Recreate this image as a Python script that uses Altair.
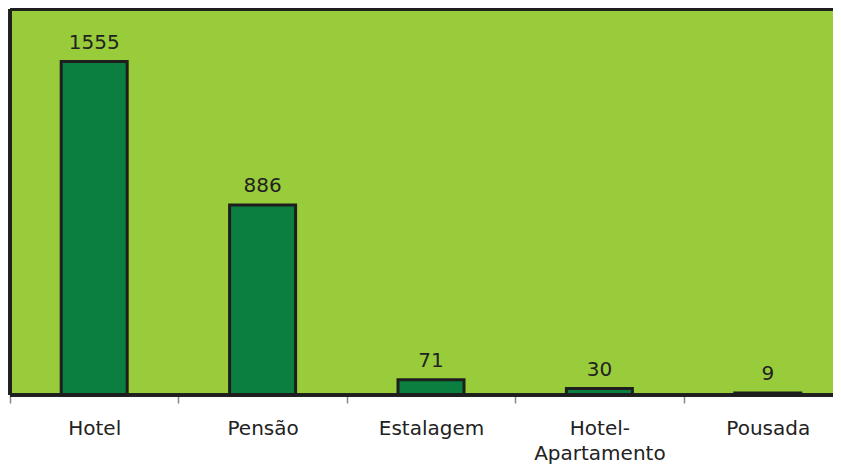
import altair as alt
import pandas as pd

categories = ["Hotel", "Pensão", "Estalagem", "Hotel-Apartamento", "Pousada"]
values = [1555, 886, 71, 30, 9]

df = pd.DataFrame({"cat": categories, "val": values})

W, H = 823, 386

x = alt.X("cat:N", sort=categories, title=None,
          scale=alt.Scale(paddingInner=0, paddingOuter=0, range=[0, 842]),
          axis=alt.Axis(labelAngle=0, labelFontSize=20, labelFont="DejaVu Sans",
                        labelColor="#222222", labelPadding=15, tickBand="extent",
                        tickColor="#888888", tickSize=8, tickWidth=1.5,
                        domainColor="#888888", domainWidth=1.5,
                        labelLineHeight=25,
                        labelExpr="datum.label == 'Hotel-Apartamento' ? ['Hotel-', 'Apartamento'] : datum.label"))
y = alt.Y("val:Q", scale=alt.Scale(domain=[0, 1800]), axis=None)

bars = alt.Chart(df).mark_bar(size=66, color="#0B7F3F", stroke="#1E1E1E",
                              strokeWidth=3).encode(x=x, y=y)
labels = alt.Chart(df).mark_text(dy=-19, fontSize=20, font="DejaVu Sans",
                                 color="#222222").encode(x=x, y=y, text="val:Q")

border_top = alt.Chart(df).mark_rule(color="#1E1E1E", strokeWidth=3).encode(
    x=alt.value(0), x2=alt.value(W + 20), y=alt.value(0))
border_left = alt.Chart(df).mark_rule(color="#1E1E1E", strokeWidth=3).encode(
    x=alt.value(0), y=alt.value(0), y2=alt.value(H))
border_bottom = alt.Chart(df).mark_rule(color="#1E1E1E", strokeWidth=3).encode(
    x=alt.value(0), x2=alt.value(W + 20), y=alt.value(H))

chart = (bars + labels + border_top + border_left + border_bottom).properties(
    width=W, height=H,
    autosize=alt.AutoSizeParams(type="none"),
    padding={"left": 2, "top": 1, "right": 0, "bottom": 70},
).configure(background="white").configure_view(fill="#99CC3A", stroke=None)

chart.save("out.html", embed_options={"renderer": "svg", "actions": False})
